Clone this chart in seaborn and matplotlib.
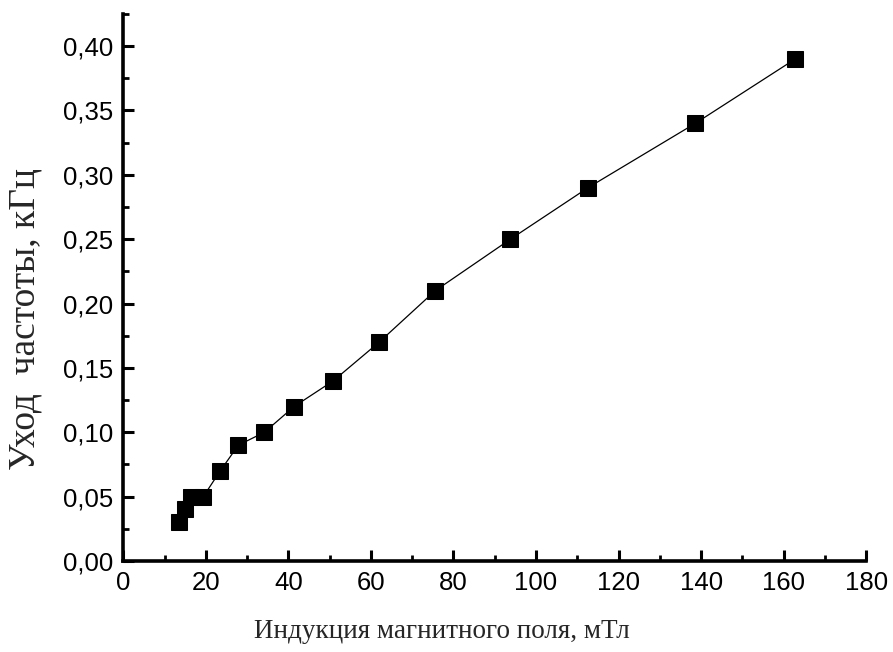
import numpy as np
import pandas as pd
import matplotlib
matplotlib.use("Agg")
import matplotlib.pyplot as plt
import seaborn as sns
from matplotlib.ticker import MultipleLocator, FuncFormatter

# field induction, mT and frequency shift, kHz
induction = [13.6, 15.0, 16.5, 19.4, 23.5, 27.9, 34.2, 41.4, 50.9, 62.0, 75.6, 93.8, 112.6, 138.6, 162.8]
shift = [0.03, 0.04, 0.05, 0.05, 0.07, 0.09, 0.10, 0.12, 0.14, 0.17, 0.21, 0.25, 0.29, 0.34, 0.39]

data = pd.DataFrame({'B': induction, 'df': shift})

sns.set_style("ticks")
plt.rcParams['font.family'] = ['Liberation Sans', 'DejaVu Sans']

fig = plt.figure(figsize=(8.93, 6.52), dpi=100)
ax = fig.add_axes([0.138, 0.1396, 0.832, 0.839])

sns.lineplot(data=data, x='B', y='df', ax=ax, color='black', linewidth=0.9,
             marker='s', markersize=11.5, markeredgecolor='black', markerfacecolor='black')

ax.set_xlim(0, 180)
ax.set_ylim(0, 0.425)
ax.xaxis.set_major_locator(MultipleLocator(20))
ax.xaxis.set_minor_locator(MultipleLocator(10))
ax.yaxis.set_major_locator(MultipleLocator(0.05))
ax.yaxis.set_minor_locator(MultipleLocator(0.025))
ax.yaxis.set_major_formatter(FuncFormatter(lambda v, p: f"{v:.2f}".replace('.', ',')))

for side in ['top', 'right']:
    ax.spines[side].set_visible(False)
for side in ['left', 'bottom']:
    ax.spines[side].set_linewidth(2.6)
    ax.spines[side].set_color('black')

ax.tick_params(which='major', direction='in', length=8, width=2.2, labelsize=18.5, pad=7,
               colors='black')
ax.tick_params(which='minor', direction='in', length=4.5, width=2.0, colors='black')

ax.set_xlabel('Индукция магнитного поля, мТл', family=['Liberation Serif', 'DejaVu Serif'],
              fontsize=19.5)
ax.set_ylabel('Уход  частоты, кГц', family=['Liberation Serif', 'DejaVu Serif'],
              fontsize=27)
ax.xaxis.set_label_coords(0.429, -0.106)
ax.yaxis.set_label_coords(-0.108, 0.442)

fig.savefig('out.png', dpi=100)
